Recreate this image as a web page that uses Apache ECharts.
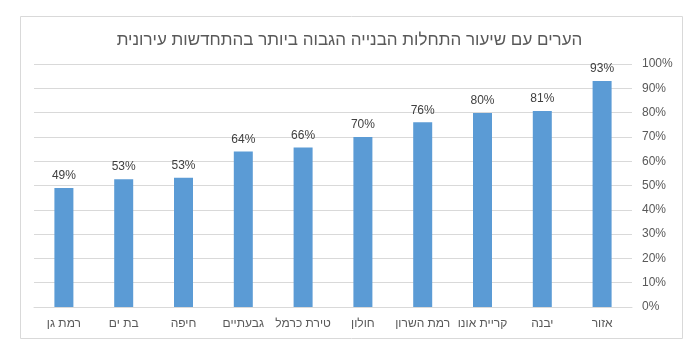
<!DOCTYPE html>
<html>
<head>
<meta charset="utf-8">
<script src="https://cdn.jsdelivr.net/npm/echarts@6/dist/echarts.min.js"></script>
<style>
  html, body { margin: 0; padding: 0; background: #fff; }
  #chart { width: 699px; height: 353px; }
</style>
</head>
<body>
<div id="chart"></div>
<script>
// ערים לפי סדר ההצגה (משמאל לימין)
const cities = ['רמת גן', 'בת ים', 'חיפה', 'גבעתיים', 'טירת כרמל', 'חולון', 'רמת השרון', 'קריית אונו', 'יבנה', 'אזור'];
const rates = [49, 52.6, 53.2, 64, 65.6, 70, 76, 79.8, 80.7, 93];
const yTicks = [0, 10, 20, 30, 40, 50, 60, 70, 80, 90, 100];

const chart = echarts.init(document.getElementById('chart'));

const option = {
  animation: false,
  textStyle: { fontFamily: 'Liberation Sans, Arial, sans-serif' },
  title: {
    text: 'הערים עם שיעור התחלות הבנייה הגבוה ביותר בהתחדשות עירונית',
    left: 'center',
    top: 27,
    textStyle: { fontSize: 17, fontWeight: 'normal', color: '#595959' }
  },
  graphic: [{
    type: 'rect',
    shape: { x: 20.5, y: 16.5, width: 662, height: 322 },
    style: { fill: 'none', stroke: '#d9d9d9', lineWidth: 1 },
    silent: true
  }],
  grid: { left: 34, right: 67, top: 64, bottom: 46 },
  xAxis: {
    type: 'category',
    data: cities,
    axisTick: { show: false },
    axisLine: { lineStyle: { color: '#d9d9d9' } },
    axisLabel: { color: '#595959', fontSize: 12, margin: 11, interval: 0 }
  },
  yAxis: {
    type: 'value',
    position: 'right',
    min: yTicks[0],
    max: yTicks[yTicks.length - 1],
    interval: 10,
    axisLine: { show: false },
    axisTick: { show: false },
    splitLine: { lineStyle: { color: '#d9d9d9' } },
    axisLabel: { color: '#595959', fontSize: 12, margin: 10, formatter: v => v + '%' }
  },
  series: [{
    type: 'bar',
    data: rates,
    barWidth: 19,
    itemStyle: { color: '#5b9bd5' },
    label: {
      show: true,
      position: 'top',
      distance: 6,
      color: '#404040',
      fontSize: 12,
      formatter: p => Math.round(p.value) + '%'
    }
  }]
};

chart.setOption(option);
</script>
</body>
</html>
